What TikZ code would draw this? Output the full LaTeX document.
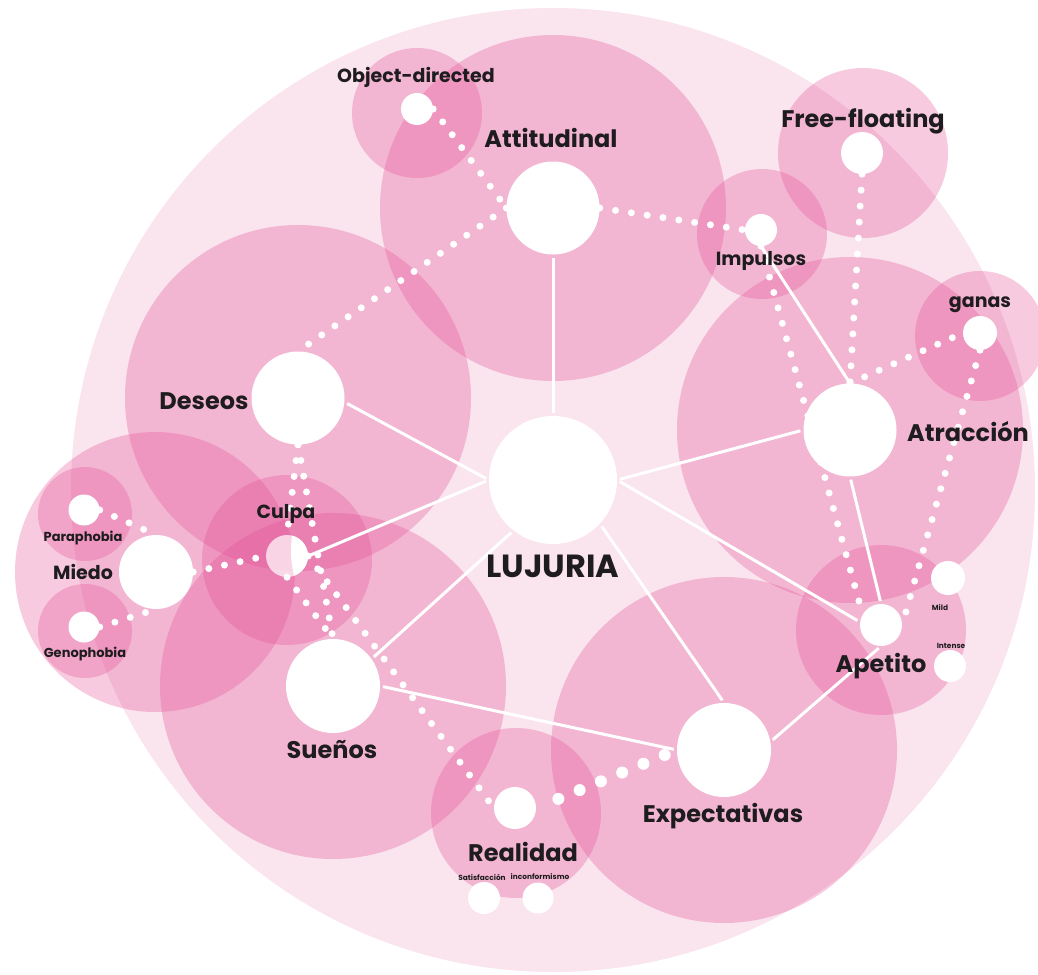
\documentclass[tikz,border=0pt]{standalone}
\usepackage{fontspec}
\setmainfont{Poppins}
\definecolor{outerpk}{RGB}{250,228,237}
\definecolor{pk}{RGB}{228,78,148}
\definecolor{txt}{RGB}{30,28,30}
\tikzset{
  blob/.style={fill=pk, fill opacity=0.3},
  wnode/.style={circle, fill=white, draw=none, inner sep=0pt, minimum size=#1},
  link/.style={draw=white, line width=3pt, shorten <=3pt, shorten >=3pt},
  dots/.style={draw=white, line width=7pt, line cap=round, dash pattern=on 0pt off 16pt},
  bigdots/.style={draw=white, line width=12pt, line cap=round, dash pattern=on 0pt off 23pt},
  lab/.style={text=txt, inner sep=0pt, anchor=base},
  huge lab/.style={lab, font=\bfseries\fontsize{32}{32}\selectfont},
  main lab/.style={lab, font=\bfseries\fontsize{24}{24}\selectfont},
  sec lab/.style={lab, font=\bfseries\fontsize{19}{19}\selectfont},
  small lab/.style={lab, font=\bfseries\fontsize{13}{13}\selectfont},
  tiny lab/.style={lab, font=\bfseries\fontsize{7.4}{7.4}\selectfont}
}
\begin{document}
\begin{tikzpicture}[x=1pt,y=-1pt]
\useasboundingbox (0,0) rectangle (1038,974);
\clip (0,0) rectangle (1038,974);
% outer circle
\fill[outerpk] (553,490) circle (482pt);
% pink circles
\fill[blob] (553,208) circle (173pt);
\fill[blob] (298,398) circle (173pt);
\fill[blob] (850,430) circle (173pt);
\fill[blob] (333,686) circle (173pt);
\fill[blob] (724,750) circle (173pt);
\fill[blob] (155,572) circle (140pt);
\fill[blob] (287,560) circle (85pt);
\fill[blob] (417,113) circle (65pt);
\fill[blob] (762,234) circle (65pt);
\fill[blob] (863,153) circle (85pt);
\fill[blob] (980,336) circle (65pt);
\fill[blob] (881,630) circle (85pt);
\fill[blob] (516,813) circle (85pt);
\fill[blob] (85,514) circle (47pt);
\fill[blob] (85,631) circle (47pt);
% nodes (white circles)
\node[wnode=128pt] (luj) at (553,480) {};
\node[wnode=93pt] (att) at (553,208) {};
\node[wnode=93pt] (des) at (298,398) {};
\node[wnode=93pt] (atr) at (850,430) {};
\node[wnode=94pt] (sue) at (333,686) {};
\node[wnode=94pt] (exp) at (724,750) {};
\node[wnode=74pt] (mie) at (156,572) {};
\node[wnode=42pt, fill opacity=0] (cul) at (287,556) {};
\node[wnode=31pt] (para) at (84,510) {};
\node[wnode=31pt] (geno) at (84,627) {};
\node[wnode=32pt] (od) at (417,109) {};
\node[wnode=32pt] (imp) at (761,230) {};
\node[wnode=42pt] (ff) at (862,153) {};
\node[wnode=34pt] (gan) at (980,333) {};
\node[wnode=34pt] (mild) at (948,578) {};
\node[wnode=42pt] (ape) at (881,625) {};
\node[wnode=32pt] (int) at (950,666) {};
\node[wnode=42pt] (real) at (515,808) {};
\node[wnode=32pt] (sat) at (484,898) {};
\node[wnode=31pt] (inc) at (538,898) {};
% Culpa: translucent white with a white slice
\fill[white, fill opacity=0.7] (cul.center) circle (21pt);
\begin{scope}
  \clip (293,530) .. controls (290,545) and (290,565) .. (296,582) -- (320,582) -- (320,530) -- cycle;
  \fill[white] (cul.center) circle (21pt);
\end{scope}
% solid links
\draw[link] (luj.north) -- (att.south);
\draw[link] (luj.west) -- (des.-5);
\draw[link] (luj.west) -- (cul.east);
\draw[link] (luj.east) -- (atr.west);
\draw[link] (luj.east) -- (ape.172);
\draw[link] (luj.232) -- (sue.35);
\draw[link] (luj.317) -- (exp.north);
\draw[link] (sue.east) -- (exp.west);
\draw[link] (exp.10) -- (ape.south);
\draw[link] (imp.south) -- (atr.north);
\draw[link] (atr.south) -- (ape.north);
% dotted links
\draw[dots] (od.east) -- (att.west);
\draw[dots] (att.west) -- (des.north);
\draw[dots] (att.east) -- (imp.west);
\draw[dots] (ff.south) -- (atr.north);
\draw[dots] (atr.north) -- (gan.west);
\draw[dots] (gan.south) -- (ape.east);
\draw[dots] (imp.south) -- (ape.150);
\draw[dots] (para.east) -- (mie.north);
\draw[dots] (geno.east) -- (mie.south);
\draw[dots] (mie.east) -- (cul.west);
\draw[dots] (des.south) -- (cul.north);
\draw[dots] (des.south) -- (sue.north);
\draw[dots] (cul.south) -- (sue.north);
\draw[dots] (cul.east) -- (real.west);
\draw[bigdots, shorten <=24pt] (real.east) -- (exp.west);
% labels
\node[huge lab] (tluj) at (553,577) {LUJURIA};
\node[main lab] (tatt) at (551,147) {Attitudinal};
\node[main lab] (tdes) at (204,409) {Deseos};
\node[main lab] (tatr) at (968,441) {Atracción};
\node[main lab] (tsue) at (332,758) {Sueños};
\node[main lab] (texp) at (723,822) {Expectativas};
\node[main lab] (treal) at (523,861) {Realidad};
\node[main lab] (tape) at (881,672) {Apetito};
\node[main lab] (tff) at (863,127) {Free-floating};
\node[sec lab] (tmie) at (83,579) {Miedo};
\node[sec lab] (tcul) at (286,518) {Culpa};
\node[sec lab] (timp) at (761,265) {Impulsos};
\node[sec lab] (tgan) at (980,307) {ganas};
\node[sec lab] (tod) at (416,82) {Object-directed};
\node[small lab] (tpara) at (83,541) {Paraphobia};
\node[small lab] (tgeno) at (85,657) {Genophobia};
\node[tiny lab] (tmild) at (940,610) {Mild};
\node[tiny lab] (tint) at (951,648) {Intense};
\node[tiny lab] (tsat) at (482,880) {Satisfacción};
\node[tiny lab] (tinc) at (540,879) {inconformismo};
\end{tikzpicture}
\end{document}
